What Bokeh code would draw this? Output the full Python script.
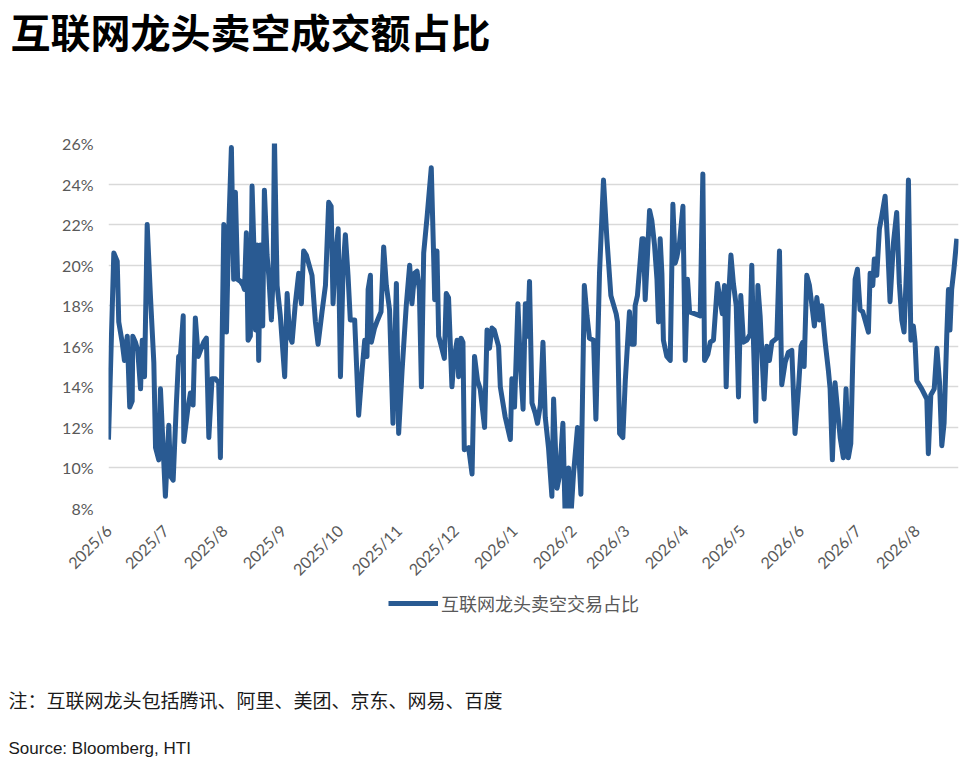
import math
import pandas as pd
from bokeh.plotting import figure
from bokeh.layouts import column
from bokeh.models import (Range1d, FixedTicker, PrintfTickFormatter, Title,
                          Legend, LegendItem)
from bokeh.embed import file_html
from bokeh.resources import INLINE

# ---------------- data ----------------
title_text = "互联网龙头卖空成交额占比"
series_name = "互联网龙头卖空交易占比"
note_text = "注：互联网龙头包括腾讯、阿里、美团、京东、网易、百度"
source_text = "Source: Bloomberg, HTI"

start_date = "2025-06-01"
# days since start_date of each observation
day_offset = [
    0, 2.8, 4.6, 5.4, 7.2, 8.4, 9.9, 11.2, 12.5, 12.8,
    14.2, 15.4, 16.9, 17.8, 19.0, 20.4, 22.1, 23.9, 24.8, 26.5,
    27.4, 28.8, 30.0, 31.8, 32.7, 34.1, 35.8, 37.0, 37.9, 39.4,
    39.7, 41.8, 43.2, 44.6, 45.8, 47.3, 48.5, 50.2, 51.6, 52.9,
    54.6, 56.4, 58.1, 59.0, 60.8, 62.2, 63.4, 64.8, 66.0, 66.9,
    68.1, 69.6, 71.0, 71.7, 72.7, 73.6, 74.8, 75.7, 76.6, 77.5,
    78.4, 79.2, 80.1, 81.3, 82.2, 83.6, 84.5, 85.9, 86.8, 87.5,
    88.9, 90.6, 92.9, 94.2, 95.5, 96.8, 98.5, 100.3, 101.7, 102.9,
    104.3, 107.3, 109.1, 110.5, 112.6, 114.4, 116.1, 117.4, 118.4, 119.6,
    121.1, 122.3, 123.7, 124.9, 126.3, 127.5, 129.8, 131.9, 133.7, 135.1,
    136.3, 136.9, 138.1, 138.6, 140.3, 141.9, 143.7, 145.1, 146.5, 148.2,
    150.0, 151.8, 153.0, 154.8, 157.0, 158.8, 160.0, 161.4, 162.7, 163.9,
    165.0, 166.2, 168.0, 170.2, 171.4, 172.0, 173.2, 174.1, 175.5, 177.1,
    178.1, 179.3, 181.1, 182.0, 183.8, 184.6, 185.9, 186.9, 187.6, 189.9,
    191.7, 193.0, 194.6, 196.0, 198.3, 199.6, 200.9, 202.2, 203.4, 205.7,
    206.6, 209.2, 211.9, 212.7, 214.1, 215.9, 217.1, 218.6, 219.8, 221.0,
    222.0, 223.3, 225.0, 226.2, 227.7, 229.1, 230.3, 232.0, 233.8, 234.7,
    236.5, 237.8, 239.6, 240.8, 242.6, 243.8, 245.2, 247.3, 249.1, 250.9,
    252.3, 253.6, 255.8, 257.0, 258.9, 261.0, 262.8, 264.9, 267.7, 268.4,
    269.5, 271.2, 272.5, 274.7, 276.0, 277.2, 277.7, 278.9, 281.3, 282.1,
    283.0, 284.2, 285.3, 286.5, 287.9, 289.2, 290.0, 290.9, 291.8, 292.6,
    294.4, 296.2, 297.6, 298.8, 299.7, 301.1, 302.9, 304.1, 305.3, 306.4,
    309.3, 312.0, 313.4, 314.3, 316.0, 317.3, 319.0, 321.1, 322.5, 323.7,
    324.8, 325.7, 326.9, 328.2, 329.5, 331.0, 332.2, 333.4, 334.8, 336.6,
    338.3, 339.2, 340.1, 341.3, 342.4, 343.6, 345.7, 347.1, 348.5, 349.8,
    352.4, 353.8, 355.0, 356.8, 358.5, 360.3, 362.0, 363.8, 365.2, 366.1,
    366.8, 368.2, 369.6, 370.8, 372.2, 373.5, 374.9, 376.1, 377.9, 379.6,
    380.5, 381.7, 383.1, 384.3, 385.8, 387.5, 388.9, 390.1, 391.4, 392.5,
    393.7, 394.9, 396.3, 397.7, 398.9, 400.7, 401.6, 403.0, 403.8, 405.1,
    406.5, 407.7, 409.5, 410.7, 412.1, 413.9, 415.6, 417.0, 418.3, 419.5,
    420.9, 421.8, 423.1, 424.4, 425.3, 426.2, 428.8, 431.5, 432.3, 433.6,
    435.4, 436.8, 438.2, 439.4, 440.6, 442.0, 442.9, 443.7, 444.6, 445.8,
    447.3,
]
# share of short-selling turnover, %
short_share_pct = [
    11.4, 20.6, 20.2, 17.2, 16.2, 15.3, 16.5, 13.0, 13.3, 16.5,
    16.2, 15.8, 13.9, 16.3, 14.5, 22.0, 18.5, 15.2, 11.0, 10.4,
    13.9, 11.0, 8.6, 12.1, 9.6, 9.4, 13.2, 15.5, 15.5, 17.5,
    11.3, 12.9, 13.7, 13.1, 17.4, 15.5, 15.8, 16.2, 16.4, 11.5,
    14.4, 14.4, 14.2, 10.5, 22.0, 16.7, 21.8, 25.8, 19.3, 23.6,
    19.3, 19.2, 19.0, 18.8, 21.6, 16.3, 16.5, 23.9, 21.1, 16.8,
    21.0, 15.3, 21.0, 17.0, 23.7, 20.5, 19.5, 17.3, 19.5, 26.3,
    19.0, 17.5, 14.5, 18.6, 16.5, 16.2, 18.1, 19.6, 18.1, 20.7,
    20.5, 19.5, 17.2, 16.1, 17.7, 19.0, 23.1, 22.9, 18.1, 20.3,
    21.8, 14.5, 19.8, 21.5, 19.5, 17.3, 17.3, 12.6, 14.8, 16.3,
    15.5, 18.8, 19.5, 16.2, 16.9, 17.3, 17.7, 20.9, 19.0, 17.8,
    12.2, 19.1, 11.7, 14.8, 18.0, 20.0, 18.1, 19.6, 19.7, 18.8,
    14.0, 20.6, 22.4, 24.8, 20.6, 18.3, 20.7, 16.5, 16.0, 15.4,
    18.6, 18.4, 14.0, 15.2, 16.3, 14.5, 16.4, 16.2, 10.9, 11.0,
    9.7, 15.5, 14.3, 13.9, 12.0, 16.8, 15.9, 16.9, 16.8, 16.0,
    14.0, 12.5, 11.4, 14.4, 13.0, 18.1, 15.2, 12.9, 18.1, 16.5,
    19.2, 13.2, 12.7, 12.2, 13.1, 16.2, 12.5, 11.0, 8.6, 13.4,
    9.0, 9.6, 12.2, 7.6, 10.0, 7.6, 9.7, 12.0, 8.7, 19.0,
    17.5, 16.4, 16.3, 12.4, 19.6, 24.2, 21.3, 18.5, 17.6, 17.2,
    11.7, 11.5, 14.3, 17.7, 16.1, 16.1, 18.0, 18.5, 21.3, 21.3,
    18.3, 20.5, 22.7, 22.2, 21.0, 19.3, 17.2, 21.3, 19.6, 16.3,
    15.5, 15.3, 23.0, 20.1, 20.4, 21.1, 22.9, 15.3, 19.3, 17.7,
    17.6, 17.5, 24.5, 15.3, 15.6, 16.2, 16.3, 19.1, 18.3, 17.6,
    19.0, 14.0, 18.3, 20.5, 19.1, 18.0, 13.5, 18.5, 16.2, 16.3,
    16.6, 20.0, 16.2, 12.3, 19.0, 17.5, 13.4, 16.0, 15.3, 16.2,
    16.4, 20.7, 14.1, 15.2, 15.7, 15.8, 11.7, 13.9, 16.0, 16.2,
    15.0, 19.5, 19.0, 18.1, 17.0, 18.4, 17.3, 18.0, 16.2, 14.8,
    13.9, 10.4, 14.2, 13.0, 11.5, 10.5, 13.9, 10.5, 11.2, 15.5,
    19.3, 19.8, 17.8, 17.7, 17.3, 16.7, 19.6, 19.0, 20.3, 19.5,
    21.8, 22.4, 23.4, 21.3, 18.2, 21.1, 22.6, 19.1, 17.3, 16.7,
    20.1, 24.2, 16.3, 17.0, 16.2, 14.3, 13.9, 13.4, 10.7, 13.6,
    13.9, 15.9, 14.2, 11.1, 12.2, 16.5, 18.8, 16.8, 18.8, 19.8,
    21.3,
]
month_ticks = ["2025-06-01", "2025-07-01", "2025-08-01", "2025-09-01",
               "2025-10-01", "2025-11-01", "2025-12-01", "2026-01-01",
               "2026-02-01", "2026-03-01", "2026-04-01", "2026-05-01",
               "2026-06-01", "2026-07-01", "2026-08-01"]
month_labels = ["2025/6", "2025/7", "2025/8", "2025/9", "2025/10", "2025/11",
                "2025/12", "2026/1", "2026/2", "2026/3", "2026/4", "2026/5",
                "2026/6", "2026/7", "2026/8"]
y_ticks = [8, 10, 12, 14, 16, 18, 20, 22, 24, 26]
x_span_days = 448.2

# ---------------- build ----------------
n = min(len(day_offset), len(short_share_pct))
start = pd.Timestamp(start_date)
dates = start + pd.to_timedelta(day_offset[:n], unit="D")
values = short_share_pct[:n]
tick_ms = [float(pd.Timestamp(d).value // 10**6) for d in month_ticks]

LINE = "#295A92"
GRAY = "#595959"
CJK = "Noto Sans CJK SC"
LAT = "Lato"
W = 960

# ---- main chart (title above) ----
FRAME_H, BOT = 363, 80
P_H = 145 + FRAME_H + BOT
p = figure(width=W, height=P_H, x_axis_type="datetime",
           output_backend="svg", toolbar_location=None,
           x_range=Range1d(start, start + pd.Timedelta(days=x_span_days)),
           y_range=Range1d(y_ticks[0], y_ticks[-1]),
           min_border_left=108, min_border_right=2,
           min_border_top=0, min_border_bottom=BOT)
p.outline_line_color = None
p.background_fill_color = "white"
p.border_fill_color = "white"

r = p.line(dates, values, line_color=LINE, line_width=5, line_join="round")

p.xgrid.visible = False
p.ygrid.grid_line_color = "#d9d9d9"
p.ygrid.grid_line_width = 1.3

p.yaxis.ticker = FixedTicker(ticks=y_ticks)
p.yaxis.formatter = PrintfTickFormatter(format="%d%%")
p.xaxis.ticker = FixedTicker(ticks=tick_ms)
p.xaxis.major_label_overrides = {t: lab for t, lab in zip(tick_ms, month_labels)}
p.xaxis.major_label_orientation = math.pi / 4

for ax in (p.xaxis[0], p.yaxis[0]):
    ax.axis_line_color = None
    ax.major_tick_line_color = None
    ax.minor_tick_line_color = None
    ax.major_tick_out = 0
    ax.major_tick_in = 0
    ax.minor_tick_out = 0
    ax.major_label_text_font = LAT
    ax.major_label_text_font_size = "16px"
    ax.major_label_text_color = GRAY
p.yaxis.major_label_standoff = 15
p.xaxis.major_label_standoff = 19

# spacer (closest to the frame) and title (outermost)
p.add_layout(Title(text=" ", text_font_size="10px", standoff=70), "above")
p.add_layout(Title(text=title_text, align="left", offset=-98, standoff=0,
                   vertical_align="middle",
                   text_font=CJK, text_font_size="40px",
                   text_font_style="bold", text_color="black"), "above")

# ---- footer: legend, note, source ----
FOOT_H = 765 - P_H
foot = figure(width=W, height=FOOT_H, output_backend="svg",
              toolbar_location=None, x_range=Range1d(0, 1),
              y_range=Range1d(0, 1), x_axis_location=None,
              y_axis_location=None, min_border_left=108, min_border_right=2,
              min_border_top=0, min_border_bottom=0)
foot.grid.visible = False
foot.outline_line_color = None
foot.background_fill_color = "white"
foot.border_fill_color = "white"
# same series, drawn out of view here: it only supplies the legend key
key = foot.line(dates, values, line_color=LINE, line_width=5)

foot.add_layout(Title(text=note_text, align="left", offset=-100, standoff=34,
                      vertical_align="middle", text_font=CJK,
                      text_font_size="19px", text_font_style="normal",
                      text_color="#1a1a1a"), "below")
foot.add_layout(Title(text=source_text, align="left", offset=-100,
                      standoff=14, vertical_align="middle",
                      text_font="Liberation Sans", text_font_size="17px",
                      text_font_style="normal", text_color="#1a1a1a"), "below")

FOOT_FRAME_H = FOOT_H - 58 - 36
legend = Legend(items=[LegendItem(label=series_name, renderers=[key])],
                location=(280, FOOT_FRAME_H - 32), orientation="horizontal",
                border_line_color=None, background_fill_alpha=0,
                padding=0, margin=0, spacing=0,
                glyph_width=50, glyph_height=20, label_standoff=3,
                label_text_font=CJK, label_text_font_size="18px",
                label_text_color=GRAY, label_text_baseline="middle")
foot.add_layout(legend)

page = column(p, foot, spacing=0)
open("out.html", "w").write(file_html(page, INLINE))
